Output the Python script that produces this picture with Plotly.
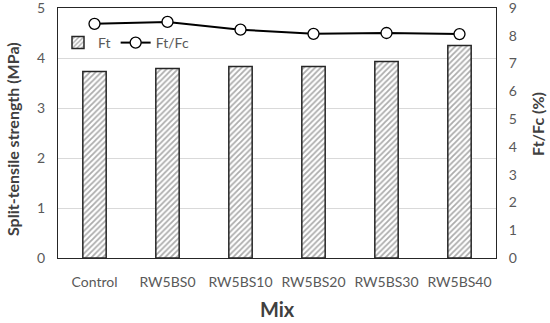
import plotly.graph_objects as go

mixes = ["Control", "RW5BS0", "RW5BS10", "RW5BS20", "RW5BS30", "RW5BS40"]
ft = [3.73, 3.79, 3.83, 3.83, 3.93, 4.25]
ft_fc = [8.43, 8.50, 8.22, 8.07, 8.10, 8.06]

FONT = "Lato"
TICK = "#595959"
TITLE = "#404040"
fig = go.Figure()
fig.add_trace(go.Bar(
    x=mixes, y=ft, name="Ft", width=0.32,
    marker=dict(color="white", line=dict(color="#262626", width=1.5),
                pattern=dict(shape="/", fgcolor="#5a5a5a", bgcolor="white", size=4, solidity=0.45)),
))
fig.add_trace(go.Scatter(
    x=mixes, y=ft_fc, name="Ft/Fc", yaxis="y2", mode="lines+markers",
    line=dict(color="black", width=2),
    marker=dict(symbol="circle", size=11, color="white", line=dict(color="black", width=1.3)),
))
fig.update_layout(
    width=550, height=323,
    margin=dict(l=58, r=54, t=8, b=65, autoexpand=False),
    paper_bgcolor="white", plot_bgcolor="white",
    font=dict(family=FONT, size=14, color=TICK),
    showlegend=True,
    legend=dict(orientation="h", x=0.0, y=0.86, xanchor="left", yanchor="middle",
                bgcolor="rgba(0,0,0,0)", font=dict(size=14, color=TICK),
                tracegroupgap=0),
    xaxis=dict(showline=True, linecolor="#262626", linewidth=1.2, mirror=True, automargin=False,
               ticks="outside", ticklen=11, tickcolor="rgba(0,0,0,0)",
               tickfont=dict(size=14, color=TICK)),
    yaxis=dict(range=[0, 5], dtick=1, showgrid=True, gridcolor="#d9d9d9", gridwidth=1,
               showline=True, linecolor="#262626", linewidth=1.2, mirror=True, automargin=False,
               zeroline=False, ticks="outside", ticklen=9, tickcolor="rgba(0,0,0,0)",
               ticklabeloverflow="allow", tickfont=dict(size=14, color=TICK)),
    yaxis2=dict(range=[0, 9], dtick=1, overlaying="y", side="right", showgrid=False, automargin=False,
                zeroline=False, ticks="outside", ticklen=9, tickcolor="rgba(0,0,0,0)",
                ticklabeloverflow="allow", tickfont=dict(size=14, color=TICK)),
    annotations=[
        dict(text="<b>Split-tensile strength (MPa)</b>", xref="paper", yref="paper",
             x=-0.105, y=0.476, textangle=-90, showarrow=False,
             font=dict(size=16, color=TITLE), xanchor="center", yanchor="middle"),
        dict(text="<b>Ft/Fc (%)</b>", xref="paper", yref="paper",
             x=1.096, y=0.536, textangle=-90, showarrow=False,
             font=dict(size=16, color=TITLE), xanchor="center", yanchor="middle"),
        dict(text="<b>Mix</b>", xref="paper", yref="paper",
             x=0.5, y=-0.256, showarrow=False, borderpad=0,
             font=dict(size=20, color=TITLE), xanchor="center", yanchor="bottom"),
    ],
)
fig.write_html("out.html", config={"displayModeBar": False},
               post_script="document.body.style.margin='0px';")
